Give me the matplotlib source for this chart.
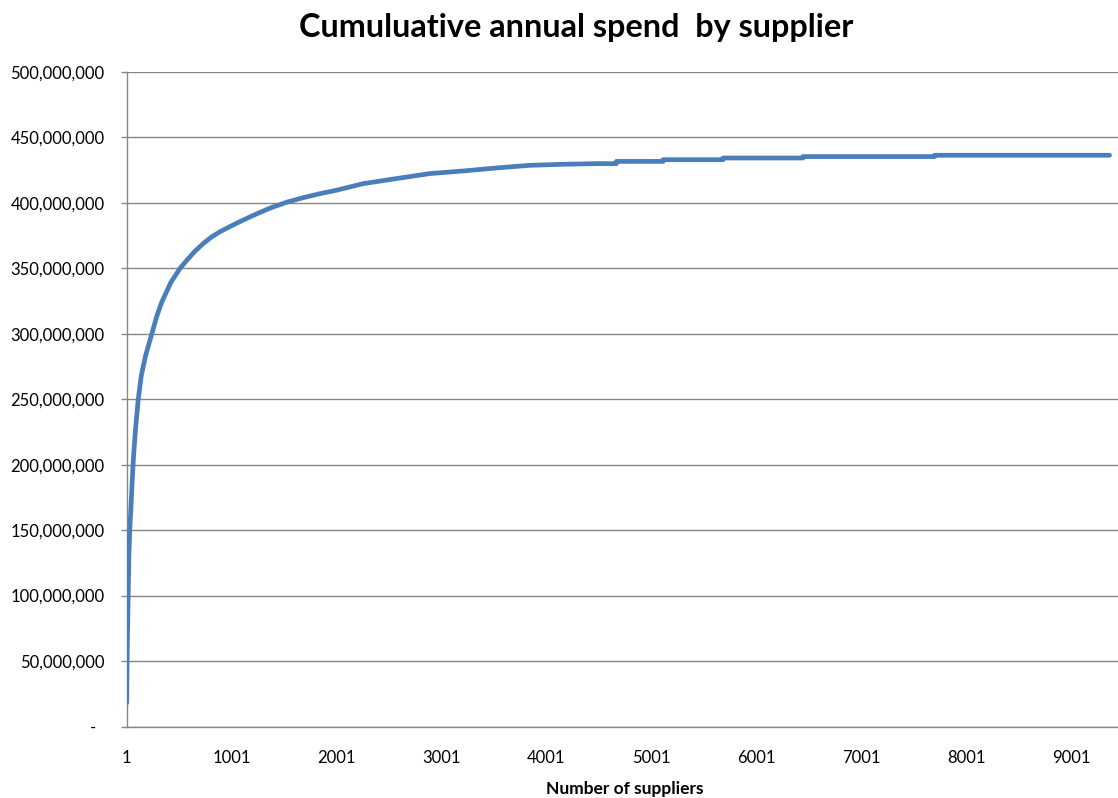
import matplotlib
matplotlib.use("Agg")
import matplotlib.pyplot as plt
from matplotlib.ticker import FuncFormatter, FixedLocator

# Data (supplier rank, cumulative spend in millions)
supplier_rank = [1, 4, 8, 10, 15, 22, 30, 40, 55, 65, 85, 111, 140, 180, 240,
                 290, 334, 420, 509, 572, 650, 731, 810, 890, 1049, 1207, 1366, 1525, 1683,
                 1840, 2001, 2254, 2572, 2889, 3207, 3525, 3841, 4159, 4477,
                 4667, 4667, 5112, 5112, 5683, 5683, 6445, 6445, 7699, 7699, 9366]
cumulative_spend_m = [18, 45, 70, 75, 100, 130, 150, 165, 190, 205, 227, 250, 268, 283, 300,
                      314, 324, 339, 350, 356, 363, 369, 374, 378, 384.5, 390.5, 396, 400.5, 404,
                      407, 409.7, 414.7, 418.6, 422.4, 424.4, 426.7, 428.7, 429.5, 430.0,
                      430.0, 431.7, 431.7, 433.0, 433.0, 434.3, 434.3, 435.4, 435.4, 436.4, 436.4]
x_tick_values = [1, 1001, 2001, 3001, 4001, 5001, 6001, 7001, 8001, 9001]
y_tick_values = [0, 50e6, 100e6, 150e6, 200e6, 250e6, 300e6, 350e6, 400e6, 450e6, 500e6]

title_text = "Cumuluative annual spend  by supplier"
x_label = "Number of suppliers"

plt.rcParams['font.family'] = ['Lato', 'DejaVu Sans']

W, H = 1118, 798
fig = plt.figure(figsize=(W / 100, H / 100), dpi=100)
left, right, top, bottom = 126.7, 1117.5, 72.0, 726.5
ax = fig.add_axes([left / W, 1 - bottom / H, (right - left) / W, (bottom - top) / H])

spend = [v * 1e6 for v in cumulative_spend_m]
ax.plot(supplier_rank, spend, color='#4A7EBB', linewidth=3.4,
        solid_capstyle='round', solid_joinstyle='round', zorder=3)

ax.set_xlim(1, 9442)
ax.set_ylim(0, 500e6)

grid_col = '#868686'
ax.yaxis.set_major_locator(FixedLocator(y_tick_values))
ax.xaxis.set_major_locator(FixedLocator(x_tick_values))
ax.set_xticklabels([str(v) for v in x_tick_values])

def yfmt(v, pos):
    if abs(v) < 1:
        return "-  "
    return f"{int(round(v)):,}"
ax.yaxis.set_major_formatter(FuncFormatter(yfmt))

ax.grid(axis='y', color=grid_col, linewidth=1.0, zorder=1)
ax.set_axisbelow(True)
for s in ['top', 'right']:
    ax.spines[s].set_visible(False)
ax.spines['left'].set_color(grid_col)
ax.spines['bottom'].set_color(grid_col)
ax.spines['left'].set_linewidth(1.0)
ax.spines['bottom'].set_linewidth(1.0)

ax.tick_params(axis='y', length=4, width=1.0, color=grid_col, pad=12,
               labelsize=12, labelcolor='#000000')
ax.tick_params(axis='x', length=0, pad=17, labelsize=12, labelcolor='#000000')

ax.set_xlabel(x_label, fontsize=12.5, fontweight='bold', labelpad=11)
ax.xaxis.label.set_position((0.503, 0))

fig.text(576 / W, 1 - 27 / H, title_text, ha='center', va='center',
         fontsize=23.3, fontweight='bold')

fig.savefig("out.png", dpi=100)
